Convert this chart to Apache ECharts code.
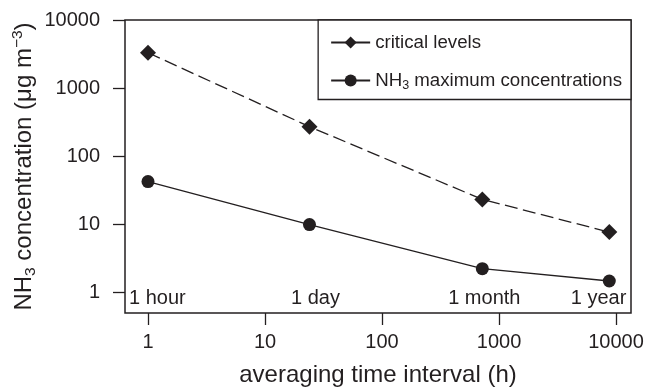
<!DOCTYPE html>
<html>
<head>
<meta charset="utf-8">
<script src="https://cdn.jsdelivr.net/npm/echarts@6/dist/echarts.min.js"></script>
<style>
  html, body { margin: 0; padding: 0; background: #fff; }
  #chart { width: 646px; height: 388px; }
</style>
</head>
<body>
<div id="chart"></div>
<script>
// Averaging time interval (hours) for each period
const hours = [1, 24, 720, 8760];
const periodNames = ['1 hour', '1 day', '1 month', '1 year'];
// NH3 critical levels and maximum concentrations (µg m-3)
const criticalLevels = [3300, 270, 23, 7.6];
const maxConcentrations = [42, 9.8, 2.2, 1.45];
// Decade ticks on both axes
const xTicks = [1, 10, 100, 1000, 10000];
const yTicks = [1, 10, 100, 1000, 10000];

const ink = '#231f20';
const font = 'Liberation Sans, Arial, Helvetica, sans-serif';

// per-label placement of the period names along the bottom of the plot
const periodLabelPos = [
  { align: 'left', offset: [-19, 6] },
  { align: 'center', offset: [6, 6] },
  { align: 'center', offset: [2, 6] },
  { align: 'right', offset: [17, 6] }
];

const chart = echarts.init(document.getElementById('chart'), null, { renderer: 'canvas' });

chart.setOption({
  animation: false,
  backgroundColor: '#fff',
  textStyle: { fontFamily: font, color: ink },
  grid: {
    left: 125, top: 20, right: 15, bottom: 75,
    outerBoundsMode: 'none',
    containLabel: false,
    show: true, borderColor: ink, borderWidth: 1.5, backgroundColor: 'transparent'
  },
  legend: {
    orient: 'vertical',
    right: 15, top: 20,
    padding: [13, 9, 7, 12],
    itemGap: 19,
    itemWidth: 39,
    itemHeight: 15,
    backgroundColor: '#fff',
    borderColor: ink,
    borderWidth: 1.3,
    borderRadius: 0,
    lineStyle: { type: 'solid' },
    formatter: function (name) {
      if (name === 'NH3 maximum concentrations') {
        return '{n|NH}{s|3}{n| maximum concentrations}';
      }
      return '{n|' + name + '}';
    },
    textStyle: {
      color: ink,
      fontFamily: font,
      fontSize: 18.7,
      rich: {
        n: { fontSize: 18.7, fontFamily: font, color: ink },
        s: { fontSize: 12.5, fontFamily: font, color: ink, padding: [11, 0, 0, 0] }
      }
    },
    data: ['critical levels', 'NH3 maximum concentrations']
  },
  xAxis: {
    type: 'log',
    logBase: 10,
    min: 0.636,
    max: 13430,
    name: 'averaging time interval (h)',
    nameLocation: 'middle',
    nameGap: 50,
    nameMoveOverlap: false,
    nameTextStyle: { fontSize: 24, color: ink, fontFamily: font },
    axisLine: { show: false },
    axisTick: { show: true, inside: false, length: 12, customValues: xTicks, lineStyle: { color: ink, width: 1.3 } },
    axisLabel: {
      customValues: xTicks,
      margin: 19,
      fontSize: 20,
      color: ink,
      fontFamily: font,
      formatter: function (v) { return String(Math.round(v)); }
    },
    splitLine: { show: false },
    minorTick: { show: false }
  },
  yAxis: {
    type: 'log',
    logBase: 10,
    min: 0.491,
    max: 10000,
    name: '{n|NH}{s|3}{n| concentration (μg m}{p|−3}{n|)}',
    nameLocation: 'middle',
    nameGap: 86,
    nameMoveOverlap: false,
    nameTextStyle: {
      fontSize: 24, color: ink, fontFamily: font,
      rich: {
        n: { fontSize: 24, fontFamily: font, color: ink },
        s: { fontSize: 15.5, fontFamily: font, color: ink, padding: [14, 0, 0, 0] },
        p: { fontSize: 15.5, fontFamily: font, color: ink, padding: [0, 0, 12, 0] }
      }
    },
    axisLine: { show: false },
    axisTick: { show: true, inside: false, length: 12, customValues: yTicks, lineStyle: { color: ink, width: 1.3 } },
    axisLabel: {
      customValues: yTicks,
      margin: 25,
      fontSize: 20,
      color: ink,
      fontFamily: font,
      formatter: function (v) { return String(Math.round(v)); }
    },
    splitLine: { show: false },
    minorTick: { show: false }
  },
  series: [
    {
      name: 'critical levels',
      type: 'line',
      data: hours.map((h, i) => [h, criticalLevels[i]]),
      symbol: 'diamond',
      symbolSize: 16,
      itemStyle: { color: ink },
      lineStyle: { color: ink, width: 1.3, type: [13, 5.5] },
      z: 3
    },
    {
      name: 'NH3 maximum concentrations',
      type: 'line',
      data: hours.map((h, i) => [h, maxConcentrations[i]]),
      symbol: 'circle',
      symbolSize: 13,
      itemStyle: { color: ink },
      lineStyle: { color: ink, width: 1.3, type: 'solid' },
      z: 3
    },
    {
      name: 'periods',
      type: 'scatter',
      symbol: 'circle',
      symbolSize: 1,
      silent: true,
      itemStyle: { color: 'rgba(0,0,0,0)', opacity: 1 },
      data: hours.map((h, i) => ({
        value: [h, 1],
        label: {
          show: true,
          position: 'inside',
          formatter: periodNames[i],
          align: periodLabelPos[i].align,
          offset: periodLabelPos[i].offset,
          fontSize: 20,
          color: ink,
          textBorderWidth: 0,
          fontFamily: font
        }
      })),
      z: 2
    }
  ]
});
</script>
</body>
</html>
